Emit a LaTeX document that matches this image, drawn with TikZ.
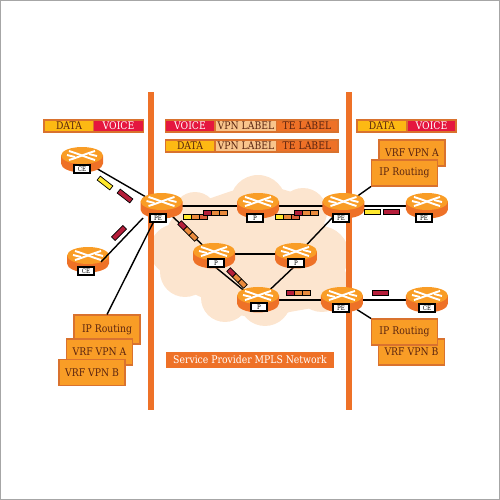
\documentclass[tikz,border=0pt]{standalone}
\usepackage{fontspec}
\newfontfamily\slabfont[FakeStretch=0.88]{DejaVu Serif}
\usepackage{tikz}
\usetikzlibrary{arrows.meta,positioning}
\definecolor{mplsorange}{HTML}{EE7127}
\definecolor{mplsamber}{HTML}{F99D26}
\definecolor{mplsedge}{HTML}{D9722E}
\definecolor{mplspeach}{HTML}{FCE5CF}
\definecolor{mplsred}{HTML}{E5173F}
\definecolor{mplsyellow}{HTML}{FDB913}
\definecolor{mplstan}{HTML}{F8C48C}
\definecolor{mplstext}{HTML}{5A2410}
\definecolor{pktred}{HTML}{B51E3A}
\definecolor{pktorange}{HTML}{E98A3C}
\definecolor{pktdeep}{HTML}{D9603A}
\definecolor{pktyellow}{HTML}{FFE92E}

\begin{document}
\begin{tikzpicture}[
      x=0.02cm, y=-0.02cm,
      font=\slabfont\fontsize{6}{7}\selectfont,
      bar/.style={fill=mplsorange},
      legend/.style={fill=mplsedge, minimum height=14*0.02cm, inner sep=0pt},
      cell/.style={minimum height=10.5*0.02cm, inner sep=0pt, text=mplstext},
      infobox/.style={draw=mplsedge, line width=0.6pt, fill=mplsamber, text=mplstext,
                  minimum width=66*0.02cm, minimum height=26*0.02cm, inner sep=0pt},
      routerbox/.style={minimum width=42*0.02cm, minimum height=25*0.02cm, inner sep=0pt},
      tag/.style={draw=black, line width=0.7pt, fill=white, font=\slabfont\fontsize{3.6}{4}\selectfont,
                  minimum width=16*0.02cm, minimum height=8*0.02cm, inner sep=0pt},
      link/.style={line width=0.8pt, black},
      pkt/.style={draw=black, line width=0.4pt, minimum width=8*0.02cm, minimum height=5*0.02cm,
                  inner sep=0pt, outer sep=0pt},
      pktlong/.style={pkt, minimum width=16*0.02cm},
      router/.pic={
        \fill[mplsorange] (-21,-4.5) -- (-21,3.5) arc[start angle=180, end angle=360, x radius=21, y radius=-9]
              -- (21,-4.5) -- cycle;
        \fill[mplsamber] (0,-4.5) ellipse[x radius=21, y radius=8.5];
        \draw[white, line width=1.1pt] (-13,-9) .. controls (-3,-6) and (3,-3) .. (13,0);
        \draw[white, line width=1.1pt] (-13,0) .. controls (-3,-3) and (3,-6) .. (13,-9);
        \draw[white, line width=1.1pt] (-15,-5) -- (-7,-3);
        \draw[white, line width=1.1pt] (15,-4) -- (7,-6);
      }
  ]
    % frame
    \draw[gray!70, line width=0.6pt] (0.5,0.5) rectangle (499.5,499.5);

    % cloud
    \fill[mplspeach] plot[smooth cycle, tension=0.4] coordinates {
      (160,250) (170,222) (185,205) (205,200) (235,190) (260,185)
      (285,190) (310,200) (325,225) (340,250) (340,280)
      (320,305) (290,312) (265,318) (240,315) (207,300) (187,290) (170,275)};
    \foreach \cx/\cy/\cr in {176/250/26, 185/272/25, 225/298/24, 265/300/26, 322/285/27,
                             320/255/29, 258/203/28, 195/214/22, 303/212/24}
      \fill[mplspeach] (\cx,\cy) ellipse[x radius=\cr, y radius=\cr];

    % bars
    \fill[bar] (148,92) rectangle (154,410);
    \fill[bar] (346,92) rectangle (352,410);

    % legends
    \node[legend, minimum width=101*0.02cm] (legl) at (93.5,126) {};
    \node[cell, fill=mplsyellow, minimum width=48*0.02cm] (legldata) at (69,126) {DATA};
    \node[cell, fill=mplsred, text=white, minimum width=49*0.02cm] (leglvoice) at (118.5,126) {VOICE};
    \node[legend, minimum width=174*0.02cm] (legm) at (252,126) {};
    \node[cell, fill=mplsred, text=white, minimum width=48*0.02cm] (legmvoice) at (190,126) {VOICE};
    \node[cell, fill=mplstan, minimum width=60*0.02cm] (legmvpn) at (246,126) {VPN LABEL};
    \node[cell, fill=mplsorange, minimum width=60*0.02cm] (legmte) at (307,126) {TE LABEL};
    \node[legend, minimum width=174*0.02cm] (legn) at (252,146) {};
    \node[cell, fill=mplsyellow, minimum width=48*0.02cm] (legndata) at (190,146) {DATA};
    \node[cell, fill=mplstan, minimum width=60*0.02cm] (legnvpn) at (246,146) {VPN LABEL};
    \node[cell, fill=mplsorange, minimum width=60*0.02cm] (legnte) at (307,146) {TE LABEL};
    \node[legend, minimum width=101*0.02cm] (legr) at (406.5,126) {};
    \node[cell, fill=mplsyellow, minimum width=48*0.02cm] (legrdata) at (382,126) {DATA};
    \node[cell, fill=mplsred, text=white, minimum width=47*0.02cm] (legrvoice) at (431.5,126) {VOICE};

    % boxes
    \node[infobox] (vrfar) at (412,153) {VRF VPN A};
    \node[infobox] (ipr) at (404.5,173) {IP Routing};
    \node[infobox, minimum height=29*0.02cm] (ipl) at (107,329.5) {IP Routing};
    \node[infobox] (vrfal) at (99.5,352) {VRF VPN A};
    \node[infobox] (vrfbl) at (92,372.5) {VRF VPN B};
    \node[infobox] (vrfbr) at (411.5,352) {VRF VPN B};
    \node[infobox] (ipb) at (404.5,332) {IP Routing};
    \node[fill=mplsorange, text=white, minimum width=168*0.02cm, minimum height=16*0.02cm, inner sep=0pt] (spnet) at (250,360) {Service Provider MPLS Network};

    % routers
    \foreach \r/\x/\y in {ce1/82/160, ce2/88/260, ce3/427/206, ce4/427/300, pe1/161.5/206, pe2/343.5/206,
                          pe3/342/300, p1/258/206, p2/214/256, p3/296/256, p4/258/300}
      \node[routerbox] (\r) at (\x,\y) {};

    % links
    \draw[link] (ce1.center)--(pe1.center);
    \draw[link] (pe1.center)--(ipl.north);
    \draw[link] (pe1.center)--(p1.center);
    \draw[link] (p1.center)--(pe2.center);
    \draw[link] (pe2.center)--(ce3.center);
    \draw[link] (pe2.center)--(ipr.south west);
    \draw[link] (pe1.center)--(p2.center);
    \draw[link] ([yshift=0.04cm]p2.center)--([yshift=0.04cm]p3.center);
    \draw[link] (p3.center)--(pe2.center);
    \draw[link] ([yshift=-0.2cm]p2.center)--([yshift=-0.04cm]p4.center);
    \draw[link] ([yshift=-0.18cm]p3.center)--([yshift=-0.02cm]p4.center);
    \draw[link] (p4.center)--(pe3.center);
    \draw[link] (pe3.center)--(ce4.center);
    \draw[link] (pe3.center)--(ipb.north west);

    \foreach \r in {ce1,ce2,ce3,ce4,pe1,pe2,pe3,p1,p2,p3,p4}
      \pic at (\r) {router};

    % this one runs over the router
    \coordinate (ce2end) at (101,262);
    \coordinate (pe1end) at (143,218);
    \draw[link] (pe1end)--(ce2end);

    % router tags
    \node[tag] (tce1) at (82,169) {CE};
    \node[tag] (tce2) at (86,271) {CE};
    \node[tag] (tce3) at (424,218) {PE};
    \node[tag] (tce4) at (427,308) {CE};
    \node[tag] (tpe1) at (158,218) {PE};
    \node[tag] (tpe2) at (341,218) {PE};
    \node[tag] (tpe3) at (341,308) {PE};
    \node[tag] (tp1) at (255,218) {P};
    \node[tag] (tp2) at (216,263) {P};
    \node[tag] (tp3) at (296,263) {P};
    \node[tag] (tp4) at (259,307) {P};

    % packets
    \node[pktlong, fill=pktyellow, rotate=-38] (pa) at (105,183) {};
    \node[pktlong, fill=pktred, rotate=-38] (pb) at (125,196) {};
    \node[pktlong, fill=pktred, rotate=45] (pc) at (119,233) {};
    \node[pktlong, fill=pktyellow] (pd) at (372,212) {};
    \node[pktlong, fill=pktred] (pe) at (391,212) {};
    \node[pktlong, fill=pktred] (pf) at (380,293) {};

    % x/y/angle/first colour/last colour
    \foreach \n/\x/\y/\ang/\ca/\cc in {r1/195.5/216.5/0/pktyellow/pktdeep, r2/215/212.5/0/pktred/pktorange,
                              r3/287/216.5/0/pktyellow/pktdeep, r4/306/212.5/0/pktred/pktorange,
                              r5/188/231/45/pktred/pktorange, r6/237/278/45/pktred/pktorange,
                              r7/298.5/293/0/pktred/pktorange}{
      \node[pkt, fill=pktorange, rotate=-\ang] (\n b) at (\x,\y) {};
      \node[pkt, fill=\ca, rotate=-\ang] (\n a) at ([shift={(\ang:-8)}]\x,\y) {};
      \node[pkt, fill=\cc, rotate=-\ang] (\n c) at ([shift={(\ang:8)}]\x,\y) {};
    }
  \end{tikzpicture}
\end{document}
